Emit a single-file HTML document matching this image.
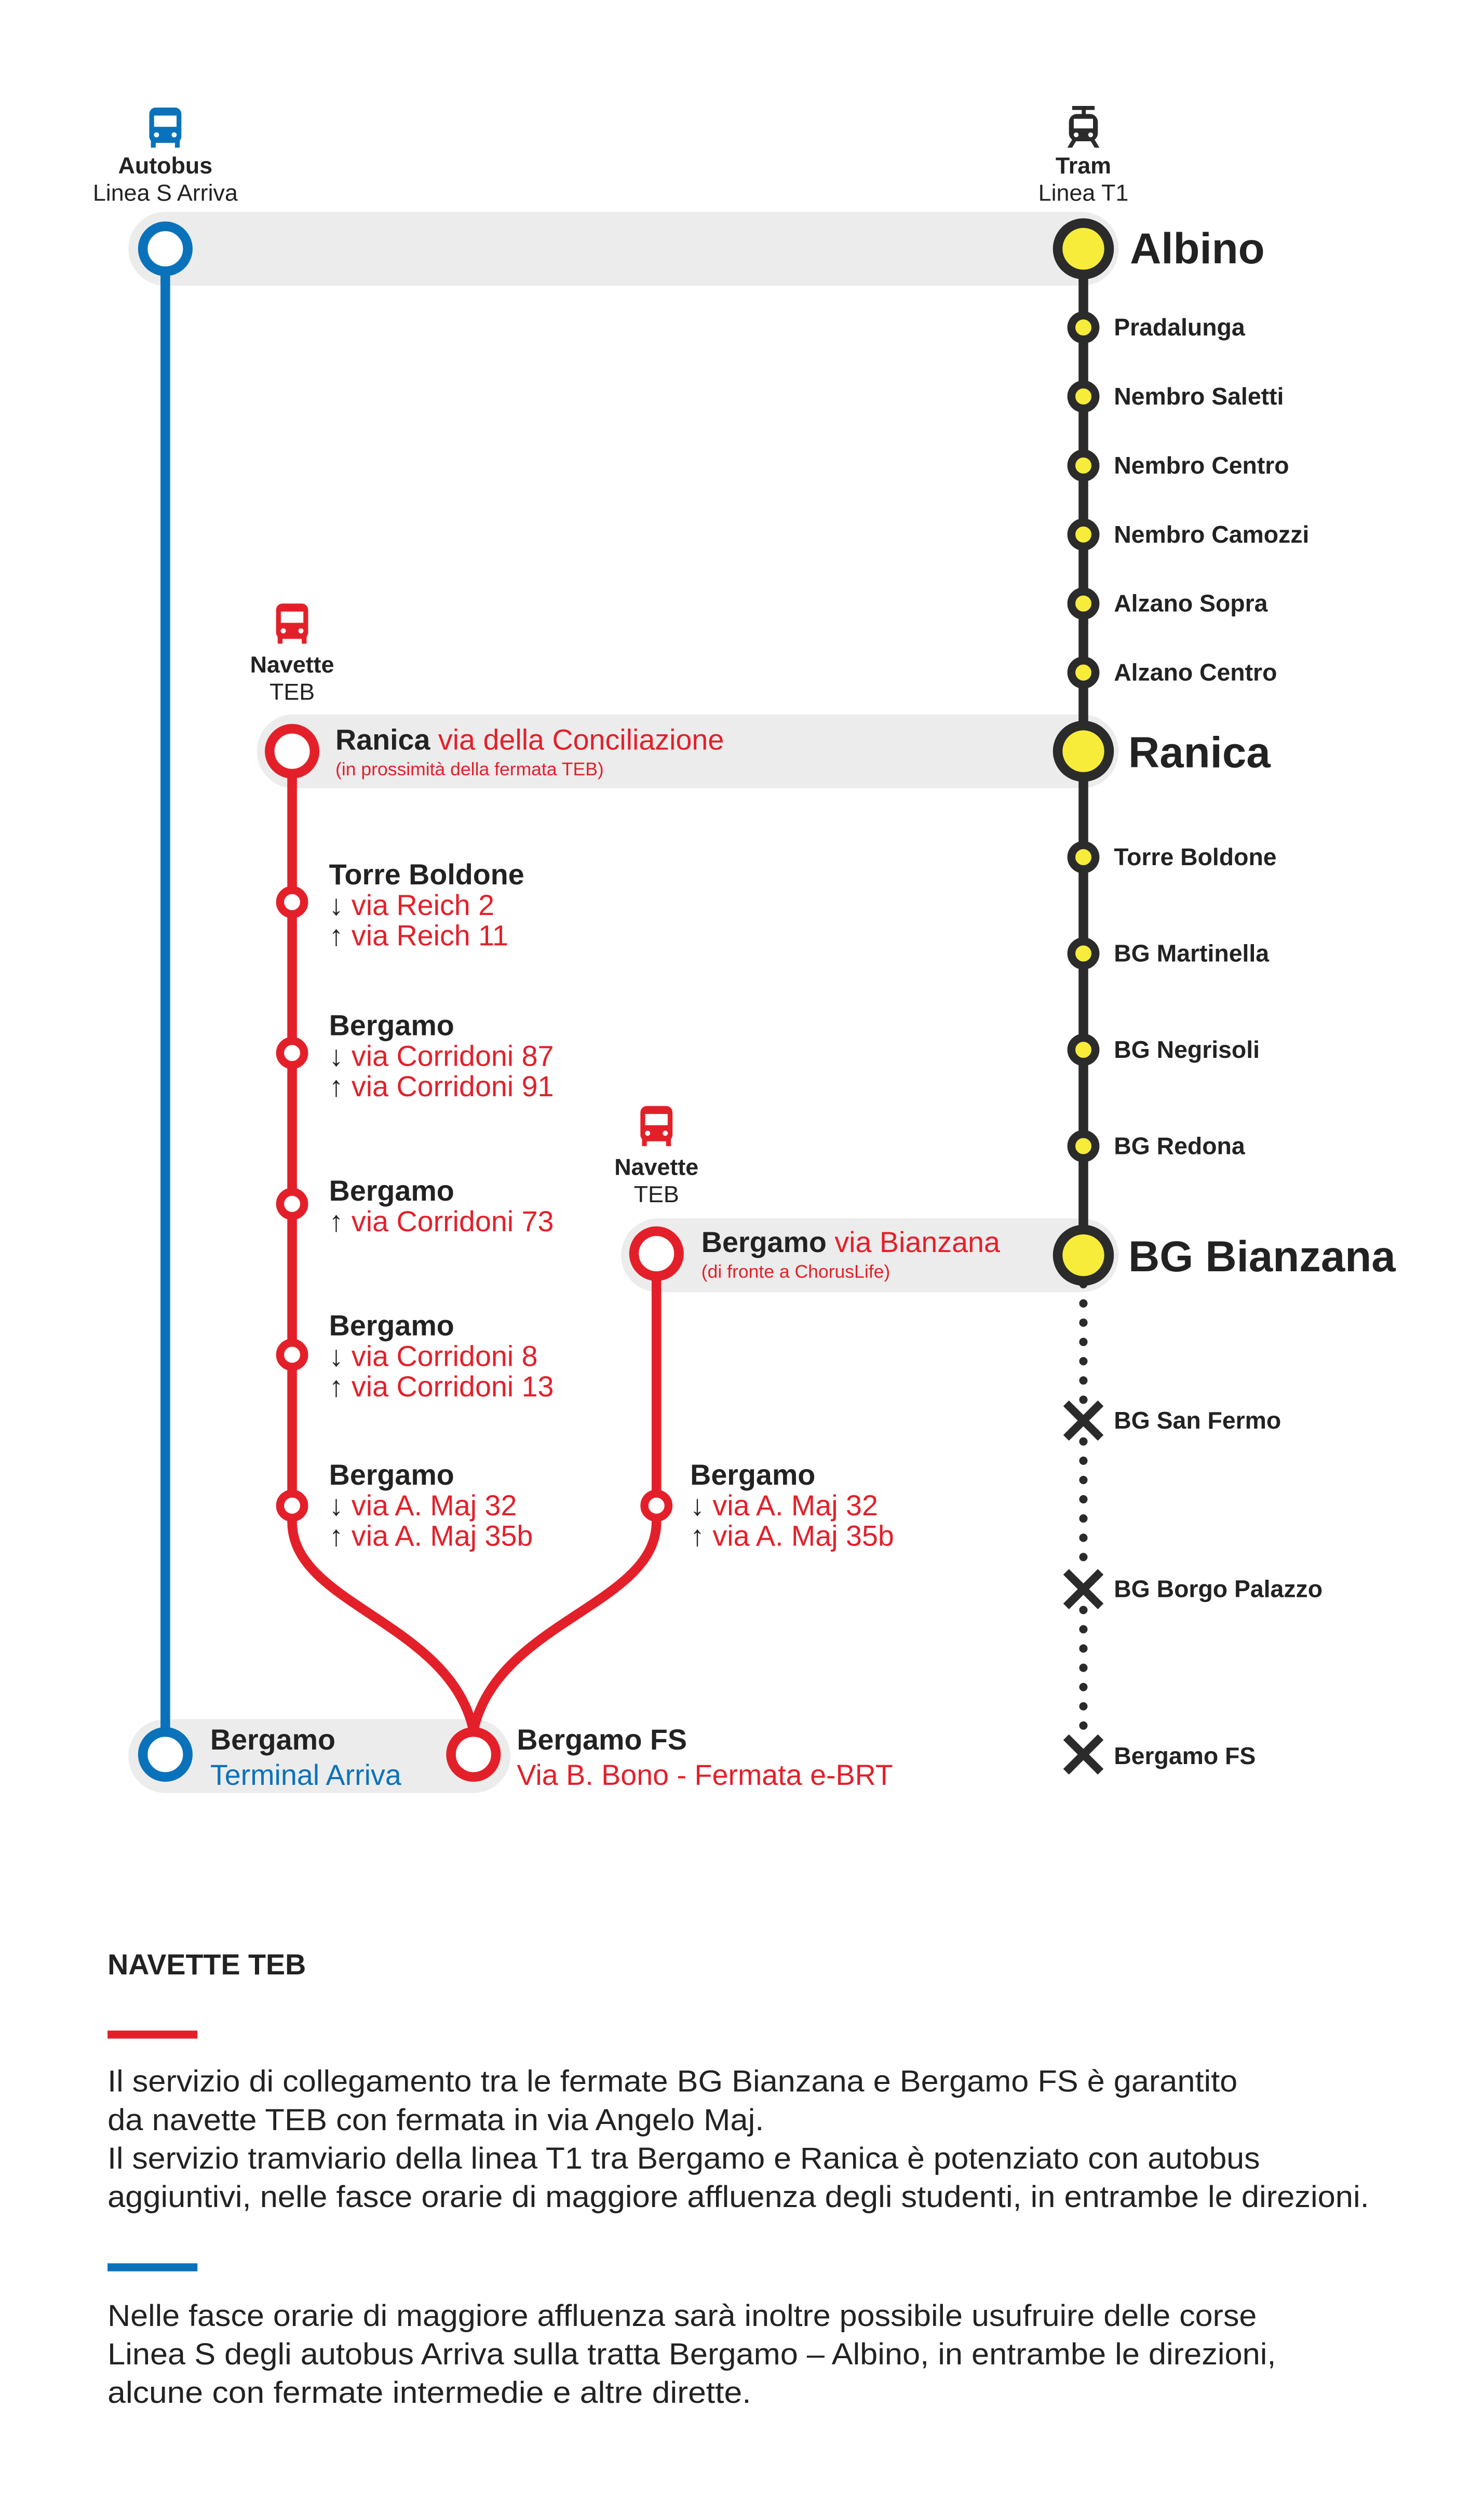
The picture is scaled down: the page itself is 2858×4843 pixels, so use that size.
<!DOCTYPE html>
<html><head><meta charset="utf-8"><style>
html,body{margin:0;padding:0;background:#fff}
svg{display:block}
text{font-family:"Liberation Sans",sans-serif}
.b{font-weight:bold;fill:#222}
.r{fill:#e3202a}
.k{fill:#222}
</style></head><body>
<svg width="2858" height="4843" viewBox="0 0 924.6 1566.8" preserveAspectRatio="none" xmlns="http://www.w3.org/2000/svg">
<rect width="924.6" height="1566.8" fill="#fff"/>
<!-- bands -->
<rect x="80" y="132" width="617" height="46" rx="23" fill="#ececec"/>
<rect x="160" y="445" width="537" height="46" rx="23" fill="#ececec"/>
<rect x="387" y="759" width="310" height="46" rx="23" fill="#ececec"/>
<rect x="80" y="1071" width="238" height="46" rx="23" fill="#ececec"/>
<!-- blue line -->
<line x1="103" y1="155" x2="103" y2="1093" stroke="#0a72bb" stroke-width="6"/>
<circle cx="103" cy="155" r="14" fill="#fff" stroke="#0a72bb" stroke-width="6"/>
<circle cx="103" cy="1093" r="14" fill="#fff" stroke="#0a72bb" stroke-width="6"/>
<!-- tram line -->
<line x1="675" y1="155" x2="675" y2="782" stroke="#2b2b2b" stroke-width="6"/>
<g fill="#2b2b2b">
<circle cx="675" cy="800" r="2.6"/><circle cx="675" cy="812" r="2.6"/><circle cx="675" cy="824" r="2.6"/><circle cx="675" cy="836" r="2.6"/><circle cx="675" cy="848" r="2.6"/><circle cx="675" cy="860" r="2.6"/><circle cx="675" cy="872" r="2.6"/>
<circle cx="675" cy="898" r="2.6"/><circle cx="675" cy="910" r="2.6"/><circle cx="675" cy="922" r="2.6"/><circle cx="675" cy="934" r="2.6"/><circle cx="675" cy="946" r="2.6"/><circle cx="675" cy="958" r="2.6"/><circle cx="675" cy="970" r="2.6"/>
<circle cx="675" cy="1003" r="2.6"/><circle cx="675" cy="1015" r="2.6"/><circle cx="675" cy="1027" r="2.6"/><circle cx="675" cy="1039" r="2.6"/><circle cx="675" cy="1051" r="2.6"/><circle cx="675" cy="1063" r="2.6"/><circle cx="675" cy="1075" r="2.6"/>
</g>
<g stroke="#2b2b2b" stroke-width="5" stroke-linecap="square">
<path d="M666 876 L684 894 M684 876 L666 894"/>
<path d="M666 981 L684 999 M684 981 L666 999"/>
<path d="M666 1084 L684 1102 M684 1084 L666 1102"/>
</g>
<g fill="#f7ec3a" stroke="#2b2b2b" stroke-width="6">
<circle cx="675" cy="155" r="16"/><circle cx="675" cy="468" r="16"/><circle cx="675" cy="782" r="16"/>
</g>
<g fill="#f7ec3a" stroke="#2b2b2b" stroke-width="5">
<circle cx="675" cy="204" r="7.5"/><circle cx="675" cy="247" r="7.5"/><circle cx="675" cy="290" r="7.5"/><circle cx="675" cy="333" r="7.5"/><circle cx="675" cy="376" r="7.5"/><circle cx="675" cy="419" r="7.5"/>
<circle cx="675" cy="534" r="7.5"/><circle cx="675" cy="594" r="7.5"/><circle cx="675" cy="654" r="7.5"/><circle cx="675" cy="714" r="7.5"/>
</g>
<!-- red lines -->
<g fill="none" stroke="#e3202a" stroke-width="6">
<path d="M182 468 L182 948 C182 1000 280 1010 295 1078"/>
<path d="M409 780 L409 948 C409 1000 310 1010 295 1078"/>
</g>
<circle cx="182" cy="468" r="14" fill="#fff" stroke="#e3202a" stroke-width="6"/>
<circle cx="409" cy="781" r="14" fill="#fff" stroke="#e3202a" stroke-width="6"/>
<circle cx="295" cy="1093" r="14" fill="#fff" stroke="#e3202a" stroke-width="6"/>
<g fill="#fff" stroke="#e3202a" stroke-width="5">
<circle cx="182" cy="562" r="7.5"/><circle cx="182" cy="656" r="7.5"/><circle cx="182" cy="750" r="7.5"/><circle cx="182" cy="844" r="7.5"/><circle cx="182" cy="938" r="7.5"/><circle cx="409" cy="938" r="7.5"/>
</g>
<!-- icons -->
<g fill="#0a72bb"><rect x="93" y="67" width="20" height="22" rx="4"/><rect x="94" y="87" width="3" height="5"/><rect x="109" y="87" width="3" height="5"/></g>
<rect x="96" y="72" width="14" height="7" fill="#fff"/><circle cx="97.5" cy="84" r="1.6" fill="#fff"/><circle cx="108.5" cy="84" r="1.6" fill="#fff"/>
<g fill="#e3202a"><rect x="172" y="376" width="20" height="22" rx="4"/><rect x="173" y="396" width="3" height="5"/><rect x="188" y="396" width="3" height="5"/></g>
<rect x="175" y="381" width="14" height="7" fill="#fff"/><circle cx="176.5" cy="393" r="1.6" fill="#fff"/><circle cx="187.5" cy="393" r="1.6" fill="#fff"/>
<g fill="#e3202a"><rect x="399" y="689" width="20" height="22" rx="4"/><rect x="400" y="709" width="3" height="5"/><rect x="415" y="709" width="3" height="5"/></g>
<rect x="402" y="694" width="14" height="7" fill="#fff"/><circle cx="403.5" cy="706" r="1.6" fill="#fff"/><circle cx="414.5" cy="706" r="1.6" fill="#fff"/>
<g fill="#2b2b2b"><rect x="668" y="66" width="14" height="2.5"/><rect x="674" y="66" width="2.5" height="6"/><rect x="666" y="71" width="18" height="17" rx="5"/><path d="M668 87 L665 92 L668 92 L671 87Z M682 87 L685 92 L682 92 L679 87Z"/></g>
<rect x="669" y="74" width="12" height="6" fill="#fff"/><circle cx="670.5" cy="84" r="1.5" fill="#fff"/><circle cx="679.5" cy="84" r="1.5" fill="#fff"/>
<!-- headers -->
<text x="103" y="108" font-size="14.5" text-anchor="middle" class="b">Autobus</text>
<text x="103" y="125" font-size="14.5" text-anchor="middle" class="k">Linea S Arriva</text>
<text x="675" y="108" font-size="14.5" text-anchor="middle" class="b">Tram</text>
<text x="675" y="125" font-size="14.5" text-anchor="middle" class="k">Linea T1</text>
<text x="182" y="419" font-size="14.5" text-anchor="middle" class="b">Navette</text>
<text x="182" y="436" font-size="14.5" text-anchor="middle" class="k">TEB</text>
<text x="409" y="732" font-size="14.5" text-anchor="middle" class="b">Navette</text>
<text x="409" y="749" font-size="14.5" text-anchor="middle" class="k">TEB</text>
<!-- tram labels -->
<text x="704" y="164" font-size="27" class="b">Albino</text>
<text x="703" y="478" font-size="27" class="b">Ranica</text>
<text x="703" y="792" font-size="27" class="b">BG Bianzana</text>
<g font-size="15" class="b">
<text x="694" y="209">Pradalunga</text><text x="694" y="252">Nembro Saletti</text><text x="694" y="295">Nembro Centro</text><text x="694" y="338">Nembro Camozzi</text><text x="694" y="381">Alzano Sopra</text><text x="694" y="424">Alzano Centro</text>
<text x="694" y="539">Torre Boldone</text><text x="694" y="599">BG Martinella</text><text x="694" y="659">BG Negrisoli</text><text x="694" y="719">BG Redona</text>
<text x="694" y="890">BG San Fermo</text><text x="694" y="995">BG Borgo Palazzo</text><text x="694" y="1099">Bergamo FS</text>
</g>
<!-- red labels -->
<text x="209" y="467" font-size="18"><tspan class="b">Ranica</tspan><tspan class="r"> via della Conciliazione</tspan></text>
<text x="209" y="483" font-size="11.5" class="r">(in prossimità della fermata TEB)</text>
<text x="437" y="780" font-size="18"><tspan class="b">Bergamo</tspan><tspan class="r"> via Bianzana</tspan></text>
<text x="437" y="796" font-size="11.5" class="r">(di fronte a ChorusLife)</text>
<g font-size="18">
<text x="205" y="551" class="b">Torre Boldone</text>
<text x="205" y="570"><tspan class="k">↓</tspan><tspan class="r"> via Reich 2</tspan></text>
<text x="205" y="589"><tspan class="k">↑</tspan><tspan class="r"> via Reich 11</tspan></text>
<text x="205" y="645" class="b">Bergamo</text>
<text x="205" y="664"><tspan class="k">↓</tspan><tspan class="r"> via Corridoni 87</tspan></text>
<text x="205" y="683"><tspan class="k">↑</tspan><tspan class="r"> via Corridoni 91</tspan></text>
<text x="205" y="748" class="b">Bergamo</text>
<text x="205" y="767"><tspan class="k">↑</tspan><tspan class="r"> via Corridoni 73</tspan></text>
<text x="205" y="832" class="b">Bergamo</text>
<text x="205" y="851"><tspan class="k">↓</tspan><tspan class="r"> via Corridoni 8</tspan></text>
<text x="205" y="870"><tspan class="k">↑</tspan><tspan class="r"> via Corridoni 13</tspan></text>
<text x="205" y="925" class="b">Bergamo</text>
<text x="205" y="944"><tspan class="k">↓</tspan><tspan class="r"> via A. Maj 32</tspan></text>
<text x="205" y="963"><tspan class="k">↑</tspan><tspan class="r"> via A. Maj 35b</tspan></text>
<text x="430" y="925" class="b">Bergamo</text>
<text x="430" y="944"><tspan class="k">↓</tspan><tspan class="r"> via A. Maj 32</tspan></text>
<text x="430" y="963"><tspan class="k">↑</tspan><tspan class="r"> via A. Maj 35b</tspan></text>
<text x="131" y="1090" class="b">Bergamo</text>
<text x="131" y="1112" fill="#0a72bb">Terminal Arriva</text>
<text x="322" y="1090" class="b">Bergamo FS</text>
<text x="322" y="1112" class="r">Via B. Bono - Fermata e-BRT</text>
</g>
<!-- notes -->
<text x="67" y="1230" font-size="18" class="b">NAVETTE TEB</text>
<rect x="67" y="1265" width="56" height="5" fill="#e3202a"/>
<g font-size="19" class="k">
<text x="67" y="1303" textLength="704" lengthAdjust="spacingAndGlyphs">Il servizio di collegamento tra le fermate BG Bianzana e Bergamo FS è garantito</text>
<text x="67" y="1327" textLength="409" lengthAdjust="spacingAndGlyphs">da navette TEB con fermata in via Angelo Maj.</text>
<text x="67" y="1351" textLength="718" lengthAdjust="spacingAndGlyphs">Il servizio tramviario della linea T1 tra Bergamo e Ranica è potenziato con autobus</text>
<text x="67" y="1375" textLength="786" lengthAdjust="spacingAndGlyphs">aggiuntivi, nelle fasce orarie di maggiore affluenza degli studenti, in entrambe le direzioni.</text>
</g>
<rect x="67" y="1410" width="56" height="5" fill="#0a72bb"/>
<g font-size="19" class="k">
<text x="67" y="1449" textLength="716" lengthAdjust="spacingAndGlyphs">Nelle fasce orarie di maggiore affluenza sarà inoltre possibile usufruire delle corse</text>
<text x="67" y="1473" textLength="728" lengthAdjust="spacingAndGlyphs">Linea S degli autobus Arriva sulla tratta Bergamo – Albino, in entrambe le direzioni,</text>
<text x="67" y="1497" textLength="401" lengthAdjust="spacingAndGlyphs">alcune con fermate intermedie e altre dirette.</text>
</g>
</svg>
</body></html>
